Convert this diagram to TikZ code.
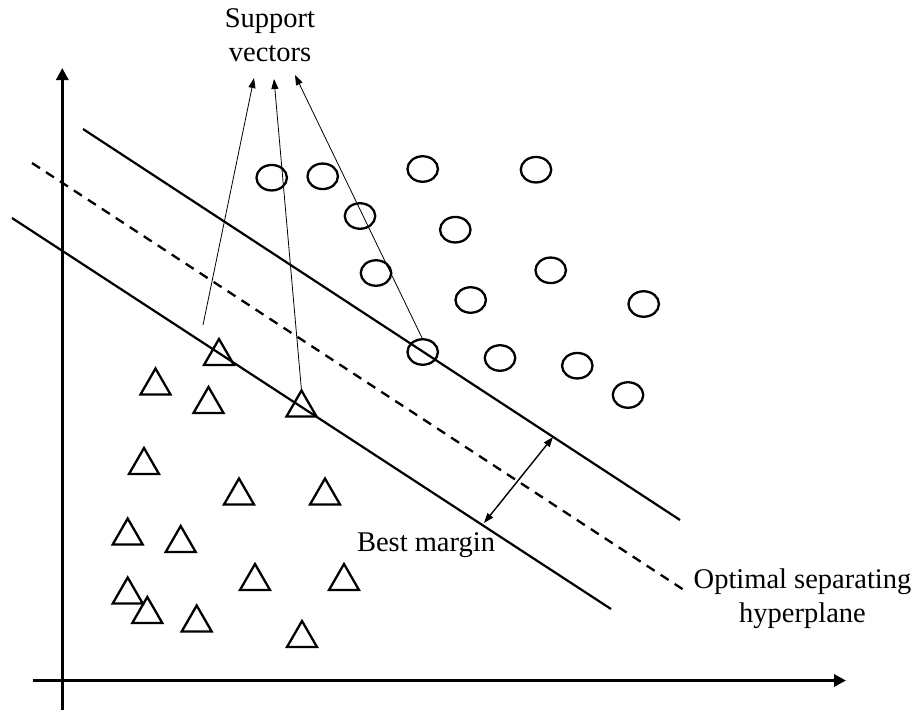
\documentclass[tikz,border=0pt]{standalone}
\usepackage{fontspec}
\setmainfont{Liberation Serif}
\usetikzlibrary{arrows.meta,shapes.geometric}
\begin{document}
\begin{tikzpicture}[x=1pt,y=-1pt,
  axis/.style={line width=3.4pt,-{Triangle[length=12pt,width=12pt]}},
  bound/.style={line width=2.2pt},
  hyper/.style={line width=2.3pt,dash pattern=on 9.5pt off 7.2pt},
  pt/.style={draw,line width=2.3pt,inner sep=0pt,outer sep=0pt},
  circ/.style={pt,ellipse,minimum width=30.5pt,minimum height=25.5pt},
  tri/.style={pt,regular polygon,regular polygon sides=3,minimum size=34.6pt},
  pointer/.style={line width=0.8pt,-{Triangle[length=10pt,width=7pt]}},
  margin/.style={line width=1.4pt,{Triangle[length=10pt,width=7pt]}-{Triangle[length=10pt,width=7pt]}},
  lbl/.style={font=\fontsize{28.5}{34}\selectfont,inner sep=0pt,align=center}]
\useasboundingbox (0,0) rectangle (918,710);

% axes
\coordinate (ybot) at (62.3,710);
\coordinate (ytop) at (62.3,68);
\coordinate (xl) at (32.7,680.5);
\coordinate (xr) at (846,680.5);
\draw[axis] (ybot) -- (ytop);
\draw[axis] (xl) -- (xr);

% hyperplane and margin boundaries
\coordinate (ua) at (83,129);   \coordinate (ub) at (680,520);
\coordinate (ha) at (32,163);   \coordinate (hb) at (687,592);
\coordinate (la) at (12,218);   \coordinate (lb) at (611,609);
\draw[bound] (ua) -- (ub);
\draw[hyper] (ha) -- (hb);
\draw[bound] (la) -- (lb);

% class A: circles
\node[circ] (c1)  at (271.7,177.7) {};
\node[circ] (c2)  at (322.7,176.3) {};
\node[circ] (c3)  at (422.7,169) {};
\node[circ] (c4)  at (536,169.7) {};
\node[circ] (c5)  at (360,216) {};
\node[circ] (c6)  at (455.3,229.7) {};
\node[circ] (c7)  at (376,273) {};
\node[circ] (c8)  at (550.7,270.3) {};
\node[circ] (c9)  at (470.7,300) {};
\node[circ] (c10) at (643.7,304) {};
\node[circ] (c11) at (422.7,352) {};
\node[circ] (c12) at (500,358) {};
\node[circ] (c13) at (577.3,365.7) {};
\node[circ] (c14) at (628,395) {};

% class B: triangles
\node[tri] (t1)  at (219,356.3) {};
\node[tri] (t2)  at (155.5,385.8) {};
\node[tri] (t3)  at (208.5,404.3) {};
\node[tri] (t4)  at (301.5,407.8) {};
\node[tri] (t5)  at (144,465.3) {};
\node[tri] (t6)  at (239,495.8) {};
\node[tri] (t7)  at (325,495.8) {};
\node[tri] (t8)  at (127.7,535.8) {};
\node[tri] (t9)  at (180.7,543.3) {};
\node[tri] (t10) at (255,581.3) {};
\node[tri] (t11) at (344,581.3) {};
\node[tri] (t12) at (127.7,594.8) {};
\node[tri] (t13) at (147.3,614.3) {};
\node[tri] (t14) at (196.7,622.8) {};
\node[tri] (t15) at (302,638.3) {};

% labels (base anchor sits on the last line)
\node[lbl,anchor=base] (sv) at (270,61.5) {Support\\vectors};
\node[lbl,anchor=base] (bm) at (426,551.5) {Best margin};
\node[lbl,anchor=base] (osh) at (802.5,622) {Optimal separating\\hyperplane};

% pointers to the support vectors
\coordinate (s1) at (203,325);
\coordinate (p1) at (254,78);
\coordinate (p2) at (274,79);
\coordinate (p3) at (295,75);
\draw[pointer] (s1) -- (p1);
\draw[pointer] (t4.corner 1) -- (p2);
\draw[pointer] (c11.north) -- (p3);

% margin width
\coordinate (m1) at (484,523);
\coordinate (m2) at (553,437);
\draw[margin] (m1) -- (m2);
\end{tikzpicture}
\end{document}
